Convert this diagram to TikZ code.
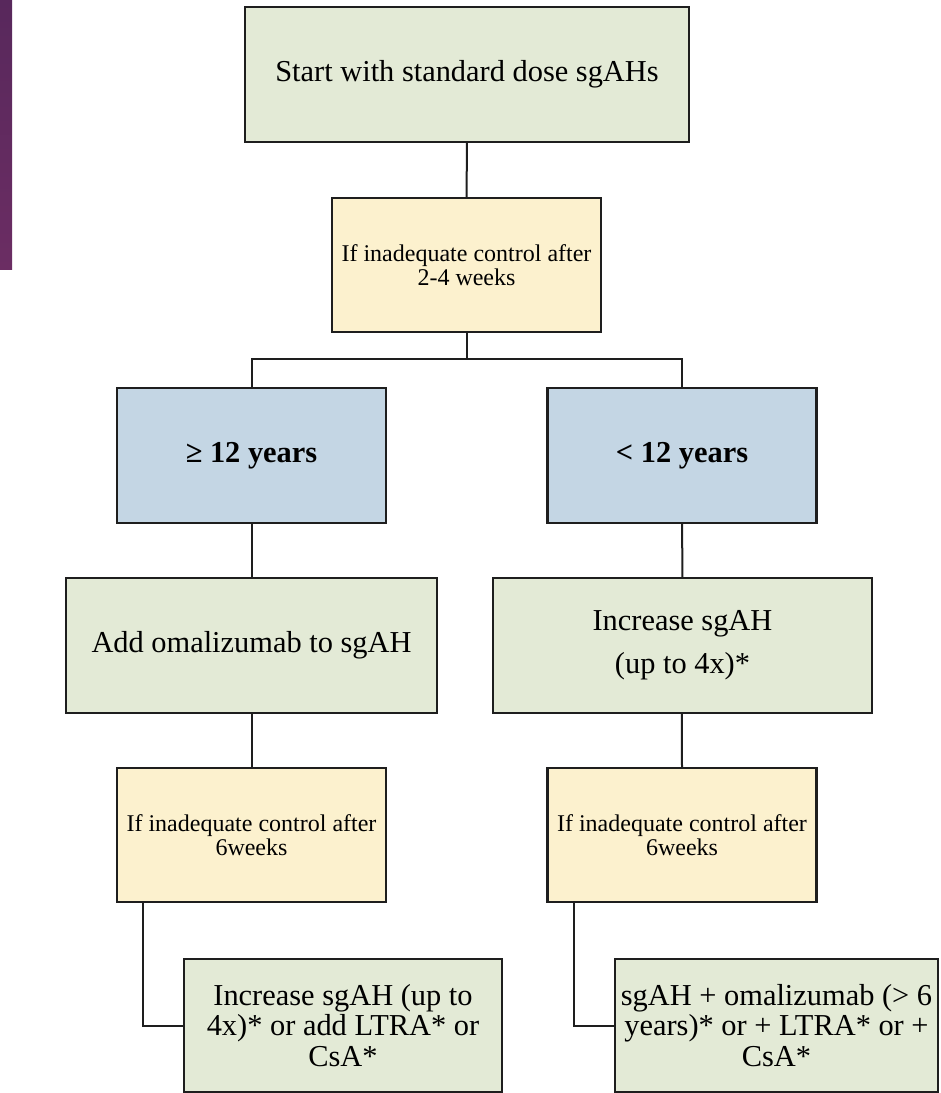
\documentclass[tikz,border=0pt]{standalone}
\usepackage{fontspec}
\setmainfont{Liberation Serif}
\definecolor{boxgreen}{HTML}{E3EAD6}
\definecolor{boxyellow}{HTML}{FCF1CE}
\definecolor{boxblue}{HTML}{C4D6E4}
\definecolor{edge}{HTML}{1E1E1E}
\definecolor{purpletop}{HTML}{58285C}
\definecolor{purplebot}{HTML}{6B2D63}
\begin{document}
\begin{tikzpicture}[x=0.75pt,y=-0.75pt,
  box/.style={draw=edge, line width=1.6pt, inner sep=0pt, align=center, minimum height=101pt},
  greenbox/.style={box, fill=boxgreen, font=\fontsize{22.8}{22.8}\selectfont},
  yellowbox/.style={box, fill=boxyellow, minimum width=201.75pt, minimum height=100.5pt, font=\fontsize{18}{18.5}\selectfont},
  bluebox/.style={box, fill=boxblue, minimum width=201.75pt, font=\fontsize{22.8}{22.8}\selectfont\bfseries},
  link/.style={draw=edge, line width=1.5pt}]
\useasboundingbox (0,0) rectangle (940,1093);
\shade[top color=purpletop, bottom color=purplebot] (0,0) rectangle (12,269);

\node[greenbox, minimum width=333pt] (start) at (467,74.5) {Start with standard dose sgAHs};
\node[yellowbox] (c1) at (466.5,265) {If inadequate control after\\2-4 weeks};
\node[bluebox] (old) at (251.5,455.5) {≥ 12 years};
\node[bluebox] (young) at (682,455.5) {< 12 years};
\node[greenbox, minimum width=278.25pt] (oma) at (251.5,645.5) {Add omalizumab to sgAH};
\node[greenbox, minimum width=284.25pt, font=\fontsize{22.8}{32}\selectfont] (inc) at (682.5,645.5) {Increase sgAH\\(up to 4x)*};
\node[yellowbox] (c2) at (251.5,835) {If inadequate control after\\6weeks};
\node[yellowbox] (c3) at (682,835) {If inadequate control after\\6weeks};
\node[greenbox, minimum width=238.5pt, minimum height=99.75pt] (endL) at (343,1025.5) {Increase sgAH (up to\\4x)* or add LTRA* or\\CsA*};
\node[greenbox, minimum width=242.25pt, minimum height=99.75pt] (endR) at (776.5,1025.5) {sgAH + omalizumab (> 6\\years)* or + LTRA* or +\\CsA*};

\coordinate (split) at (466.5,359);
\draw[link] (start) -- (c1);
\draw[link] (c1) -- (split);
\draw[link] (old.north) |- (split) -| (young.north);
\draw[link] (old) -- (oma);
\draw[link] (young) -- (inc);
\draw[link] (oma) -- (c2);
\draw[link] ([xshift=-0.5pt]inc.south) -- (c3.north);
\draw[link] ([xshift=20.25pt]c2.south west) |- (endL.west);
\draw[link] ([xshift=21pt]c3.south west) |- (endR.west);
\end{tikzpicture}
\end{document}
